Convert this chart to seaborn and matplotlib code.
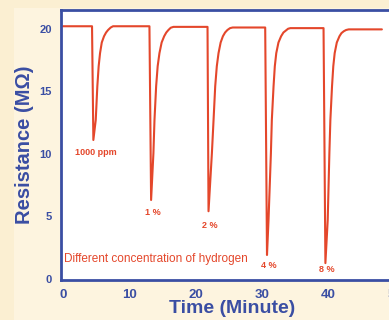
import matplotlib
matplotlib.use("Agg")
import matplotlib.pyplot as plt
import seaborn as sns
import pandas as pd
from matplotlib.patches import Rectangle

# values
time_min = [0, 4.38, 4.58, 4.94, 5.18, 5.38, 5.59, 5.85, 6.19, 6.50, 6.80, 7.20, 7.55,
            13.04, 13.29, 13.64, 13.80, 14.05, 14.28, 14.55, 14.88, 15.26, 15.58, 15.90, 16.25, 16.66,
            21.80, 21.95, 22.46, 22.71, 22.96, 23.20, 23.46, 23.78, 24.12, 24.45, 24.80, 25.20, 25.60,
            30.50, 30.77, 31.00, 31.36, 31.50, 31.76, 31.95, 32.17, 32.50, 32.90, 33.25, 33.60, 33.95, 34.30,
            39.30, 39.58, 39.93, 40.18, 40.33, 40.58, 40.77, 40.98, 41.30, 41.70, 42.00, 42.35, 42.70, 43.10,
            48.10]
resistance = [20.2, 20.2, 11.1, 12.7, 15.4, 17.0, 18.05, 18.9, 19.4, 19.7, 19.9, 20.1, 20.2,
              20.2, 6.3, 10.05, 12.7, 15.4, 17.0, 18.05, 18.9, 19.4, 19.7, 19.9, 20.08, 20.15,
              20.15, 5.4, 10.05, 12.7, 15.4, 17.0, 18.05, 18.9, 19.4, 19.7, 19.9, 20.05, 20.1,
              20.1, 1.9, 4.7, 10.05, 12.7, 15.4, 17.0, 18.05, 18.9, 19.4, 19.7, 19.85, 20.0, 20.05,
              20.05, 1.25, 4.7, 10.05, 12.7, 15.4, 17.0, 18.05, 18.9, 19.4, 19.65, 19.8, 19.9, 19.95,
              19.95]

labels = ["1000 ppm", "1 %", "2 %", "4 %", "8 %"]
label_t = [1.8, 13.6, 22.2, 31.0, 39.8]
label_r = [10.1, 5.3, 4.3, 1.1, 0.7]

df = pd.DataFrame({"Time": time_min, "Resistance": resistance})

sns.set_style("white")
plt.rcParams["font.family"] = ["Liberation Sans", "DejaVu Sans"]

blue = "#3a4ea3"
red = "#e4472b"

fig = plt.figure(figsize=(3.89, 3.20), dpi=100)
fig.patch.set_facecolor("#fbefd2")
# lighter panel behind the plot, like the reference
fig.add_artist(Rectangle((14 / 389, 0), 1, 312 / 320, transform=fig.transFigure,
                         facecolor="#fdf4df", edgecolor="none", zorder=-10))

# axes run past the right edge, so the right spine is cut off
ax = fig.add_axes([61 / 389, 40 / 320, 360 / 389, 270 / 320])
ax.set_facecolor("white")
sns.lineplot(data=df, x="Time", y="Resistance", sort=False, color=red, linewidth=1.5, ax=ax)

ax.set_xlim(-0.3, 54.0)
ax.set_ylim(-0.1, 21.5)
ax.set_xticks([0, 10, 20, 30, 40, 50])
ax.set_yticks([0, 5, 10, 15, 20])

for s in ax.spines.values():
    s.set_color(blue)
    s.set_linewidth(2)

ax.tick_params(axis="both", direction="out", length=5, width=1.8, color=blue,
               labelcolor=blue, pad=1.5)
ax.tick_params(axis="x", labelsize=9.5)
ax.tick_params(axis="y", labelsize=8)
for lab in ax.get_xticklabels() + ax.get_yticklabels():
    lab.set_fontweight("bold")

ax.set_xlabel("Time (Minute)", fontsize=14, fontweight="bold", color=blue)
ax.xaxis.set_label_coords(0.475, -0.075)
ax.set_ylabel("Resistance (MΩ)", fontsize=14.5, fontweight="bold", color=blue, labelpad=4)

for i, txt in enumerate(labels):
    ax.text(label_t[i], label_r[i], txt, color=red, fontsize=6.5, fontweight="bold",
            ha="left" if i == 0 else "center", va="center")

ax.text(0.15, 1.6, "Different concentration of hydrogen", color=red, fontsize=8.5,
        ha="left", va="center")

fig.savefig("out.png", dpi=100, facecolor=fig.get_facecolor())
